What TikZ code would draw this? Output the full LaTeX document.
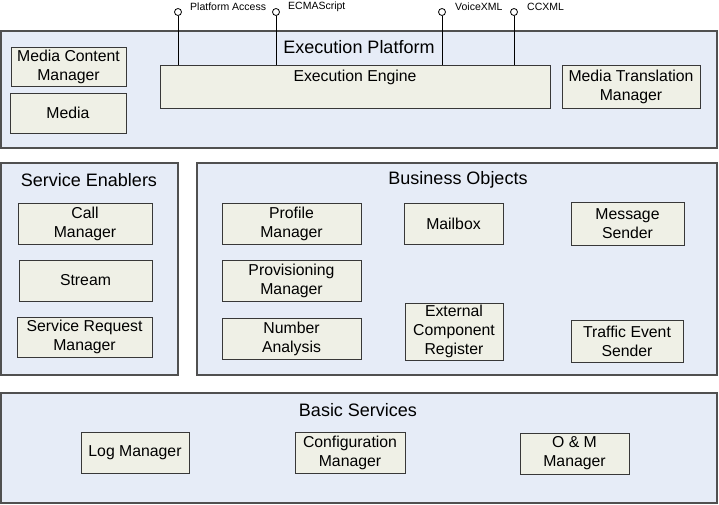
\documentclass[tikz,border=0pt]{standalone}
\usepackage{fontspec}
\setmainfont{Liberation Sans}
\definecolor{contfill}{HTML}{E6ECF7}
\definecolor{contline}{HTML}{505050}
\definecolor{boxfill}{HTML}{EFF0E6}
\definecolor{boxline}{HTML}{383838}
\tikzset{
  cbox/.style={draw=contline, fill=contfill, line width=1.2pt, inner sep=0pt},
  ibox/.style={draw=boxline, fill=boxfill, line width=0.9pt, inner sep=0pt, align=center,
    font=\fontsize{15.8}{19}\selectfont},
  ctitle/.style={inner sep=0pt, font=\fontsize{18}{21}\selectfont},
  btxt/.style={inner sep=0pt, font=\fontsize{15.8}{19}\selectfont},
  pinc/.style={circle, draw=black, fill=white, line width=0.8pt, minimum size=7pt, inner sep=0pt},
  pinl/.style={anchor=west, inner sep=0pt, font=\fontsize{10.5}{12}\selectfont},
  pinline/.style={draw=black, line width=0.9pt}
}
\begin{document}
\begin{tikzpicture}[x=1pt,y=-1pt]
\useasboundingbox (0,0) rectangle (719,504);
% containers
\node[cbox, minimum width=716pt, minimum height=117pt] (ep) at (358.9,89.5) {};
\node[cbox, minimum width=177pt, minimum height=212pt] (se) at (89.5,269) {};
\node[cbox, minimum width=520pt, minimum height=212pt] (bo) at (457,269) {};
\node[cbox, minimum width=716pt, minimum height=110pt] (bs) at (358.9,448) {};
% titles
\node[ctitle] (ept) at (359,47) {Execution Platform};
\node[ctitle] (set) at (89,180) {Service Enablers};
\node[ctitle] (bot) at (458,180) {Business Objects};
\node[ctitle] (bst) at (358,410) {Basic Services};
% execution platform
\node[ibox, minimum width=115pt, minimum height=39pt] (mcm) at (68.5,66.5) {Media Content\\Manager};
\node[ibox, minimum width=116pt, minimum height=40pt] (media) at (68,113) {Media};
\node[ibox, minimum width=390pt, minimum height=43pt] (ee) at (355,86.5) {};
\node[btxt] (eet) at ([yshift=-13pt]ee.north) {Execution Engine};
\node[ibox, minimum width=138pt, minimum height=43pt] (mtm) at (631,86.5) {Media Translation\\Manager};
% pins
\node[pinc] (p1) at (178,12) {};
\node[pinc] (p2) at (276,12) {};
\node[pinc] (p3) at (442,12) {};
\node[pinc] (p4) at (514,12) {};
\draw[pinline] (p1) -- (p1 |- ee.north);
\draw[pinline] (p2) -- (p2 |- ee.north);
\draw[pinline] (p3) -- (p3 |- ee.north);
\draw[pinline] (p4) -- (p4 |- ee.north);
\node[pinl] (l1) at (190,7) {Platform Access};
\node[pinl] (l2) at (288,7) {ECMAScript};
\node[pinl] (l3) at (455,7) {VoiceXML};
\node[pinl] (l4) at (527,7) {CCXML};
% service enablers
\node[ibox, minimum width=134pt, minimum height=41pt] (call) at (85,223.5) {Call\\Manager};
\node[ibox, minimum width=133pt, minimum height=41pt] (stream) at (85.5,280.5) {Stream};
\node[ibox, minimum width=135pt, minimum height=40pt] (srm) at (84.5,337) {Service Request\\Manager};
% business objects
\node[ibox, minimum width=139pt, minimum height=41pt] (prof) at (291.5,223.5) {Profile\\Manager};
\node[ibox, minimum width=139pt, minimum height=41pt] (prov) at (291.5,280.5) {Provisioning\\Manager};
\node[ibox, minimum width=139pt, minimum height=41pt] (num) at (291.5,338.5) {Number\\Analysis};
\node[ibox, minimum width=99pt, minimum height=41pt] (mail) at (453.5,223.5) {Mailbox};
\node[ibox, minimum width=113pt, minimum height=43pt] (msg) at (627.5,223.5) {Message\\Sender};
\node[ibox, minimum width=98pt, minimum height=57pt] (ecr) at (454,331.5) {External\\Component\\Register};
\node[ibox, minimum width=112pt, minimum height=42pt] (tes) at (627,341) {Traffic Event\\Sender};
% basic services
\node[ibox, minimum width=108pt, minimum height=41pt] (log) at (135,452.5) {Log Manager};
\node[ibox, minimum width=110pt, minimum height=41pt] (conf) at (350,452.5) {Configuration\\Manager};
\node[ibox, minimum width=109pt, minimum height=41pt] (om) at (574.5,453.5) {O \& M\\Manager};
\end{tikzpicture}
\end{document}
